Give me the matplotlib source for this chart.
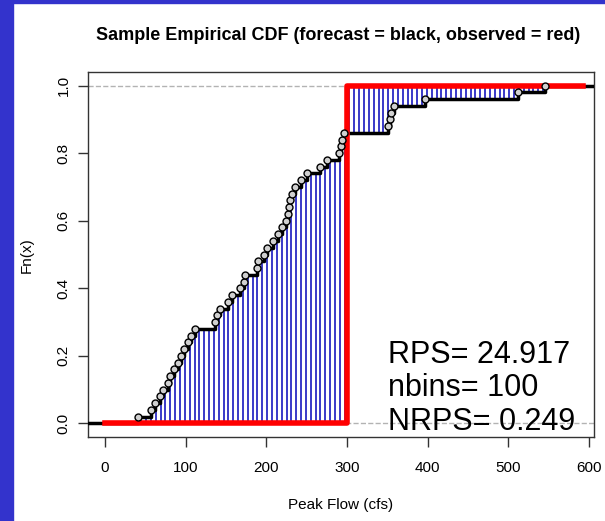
import numpy as np
import matplotlib.pyplot as plt
from matplotlib.patches import Rectangle

plt.rcParams['font.family'] = ['Liberation Sans', 'DejaVu Sans']

forecast = [41, 57, 62, 68, 72, 78, 81, 86, 90, 94,
            98, 103, 107, 112, 136, 139, 143, 152, 158, 167,
            172, 174, 189, 190, 197, 201, 208, 214, 220, 224,
            227, 228, 229, 232, 235, 243, 250, 267, 275, 290,
            292, 294, 296, 351, 353, 355, 358, 397, 512, 545]
observed = [300]
nbins = 100
bin_lo, bin_hi = 0, 600
stats = ["RPS= 24.917", "nbins= 100", "NRPS= 0.249"]

fc = np.sort(np.array(forecast, dtype=float))
ob = np.sort(np.array(observed, dtype=float))
n = len(fc)


def ecdf(sample, x):
    return np.searchsorted(sample, x, side='right') / len(sample)


fig = plt.figure(figsize=(6.05, 5.21), dpi=100)
fig.patch.set_facecolor('white')
fig.patches.append(Rectangle((0, 0), 13 / 605, 1, transform=fig.transFigure,
                             color='#3333cc', zorder=0))
fig.patches.append(Rectangle((0, 1 - 3 / 521), 1, 3 / 521, transform=fig.transFigure,
                             color='#3333cc', zorder=0))

ax = fig.add_axes([88 / 605, 1 - 437 / 521, (594 - 88) / 605, (437 - 72) / 521])
xmin, xmax = -21, 606
ax.set_xlim(xmin, xmax)
ax.set_ylim(-0.04, 1.04)

ax.axhline(0, color='#b3b3b3', ls='--', lw=1, zorder=1)
ax.axhline(1, color='#b3b3b3', ls='--', lw=1, zorder=1)

# vertical lines between the two CDFs at each bin
edges = np.linspace(bin_lo, bin_hi, nbins + 1)
centers = (edges[:-1] + edges[1:]) / 2
f_fc = ecdf(fc, centers)
f_ob = ecdf(ob, centers)
ax.vlines(centers, f_fc, f_ob, color='#2a2ac4', lw=1.3, zorder=2)

# forecast ECDF
xs = np.concatenate([[xmin], fc, [xmax]])
ys = np.concatenate([[0], np.arange(1, n + 1) / n, [1]])
ax.step(xs, ys, where='post', color='black', lw=2.5, zorder=3)

# observed ECDF
xo = np.concatenate([[bin_lo], ob, [592]])
yo = np.concatenate([[0], np.arange(1, len(ob) + 1) / len(ob), [1]])
ax.step(xo, yo, where='post', color='#ff0000', lw=4, zorder=4)

ax.plot(fc, np.arange(1, n + 1) / n, 'o', mfc='#d0d0d0', mec='black',
        ms=5, mew=1, zorder=5)

ax.set_xticks(range(0, 601, 100))
ax.set_yticks([0, 0.2, 0.4, 0.6, 0.8, 1.0])
ax.set_yticklabels(["0.0", "0.2", "0.4", "0.6", "0.8", "1.0"], rotation=90, va='center')
ax.tick_params(axis='x', length=7, width=1, pad=10.5, labelsize=11, color='#333333')
ax.tick_params(axis='y', length=7.5, width=1, pad=5, labelsize=11, color='#333333')
for s in ax.spines.values():
    s.set_color('#333333')
    s.set_linewidth(1)

for txt, yv in zip(stats, [0.178, 0.080, -0.018]):
    ax.text(351, yv, txt, fontsize=22, va='baseline', ha='left', zorder=6)

fig.text(338 / 605, 1 - 35 / 521, "Sample Empirical CDF (forecast = black, observed = red)",
         ha='center', va='center', fontsize=13, fontweight='bold')
fig.text(341 / 605, 1 - 505 / 521, "Peak Flow (cfs)", ha='center', va='center', fontsize=11)
fig.text(27 / 605, 1 - 255 / 521, "Fn(x)", ha='center', va='center', fontsize=11, rotation=90)

fig.savefig('out.png', dpi=100)
